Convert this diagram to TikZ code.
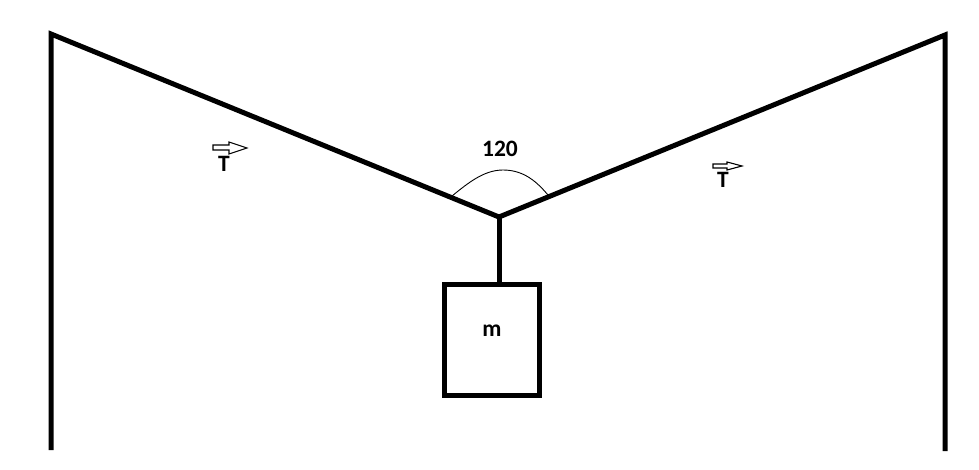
\documentclass[tikz,border=0pt]{standalone}
\usepackage{fontspec}
\setmainfont{Carlito}
\tikzset{
  x=1pt,y=-1pt,
  rope/.style={line width=5pt,line cap=butt,line join=miter,draw=black},
  mass/.style={draw=black,line width=4.8pt,fill=white,minimum width=95.5pt,minimum height=111.5pt,inner sep=0pt,outer sep=0pt},
  lab/.style={font=\bfseries\fontsize{23.5}{25}\selectfont,inner sep=0pt,text=black},
  hollow/.style={draw=black,line width=1.1pt,fill=white,line join=miter},
  thin arc/.style={draw=black,line width=0.9pt}
}
\begin{document}
\begin{tikzpicture}
\useasboundingbox (0,0) rectangle (979,470);
\fill[white] (0,0) rectangle (979,470);
\coordinate (lb) at (51,450);
\coordinate (lt) at (51,34);
\coordinate (rt) at (945,35);
\coordinate (rb) at (945,451);
\coordinate (j) at (499,217);
\node[mass] (box) at (492,340) {};
\draw[rope] (lb) -- (lt) -- (j) -- (rt) -- (rb);
\draw[rope] (j) -- (j|-box.north);
\node[lab] (mlabel) at (492,331) {m};
\node[lab] (angle) at (500,149) {120};
\draw[thin arc] (452,196) .. controls (468,183) and (484,170) .. (503,170) .. controls (524,170) and (537,182) .. (548,195);
\draw[hollow] (213,145) -- (229,145) -- (229,142) -- (247,148) -- (229,154) -- (229,150) -- (213,150) -- cycle;
\draw[hollow] (713,164) -- (727,164) -- (727,162) -- (742,166) -- (727,170) -- (727,168) -- (713,168) -- cycle;
\node[lab] (t1) at (224,164) {T};
\node[lab] (t2) at (723,180) {T};
\end{tikzpicture}
\end{document}
